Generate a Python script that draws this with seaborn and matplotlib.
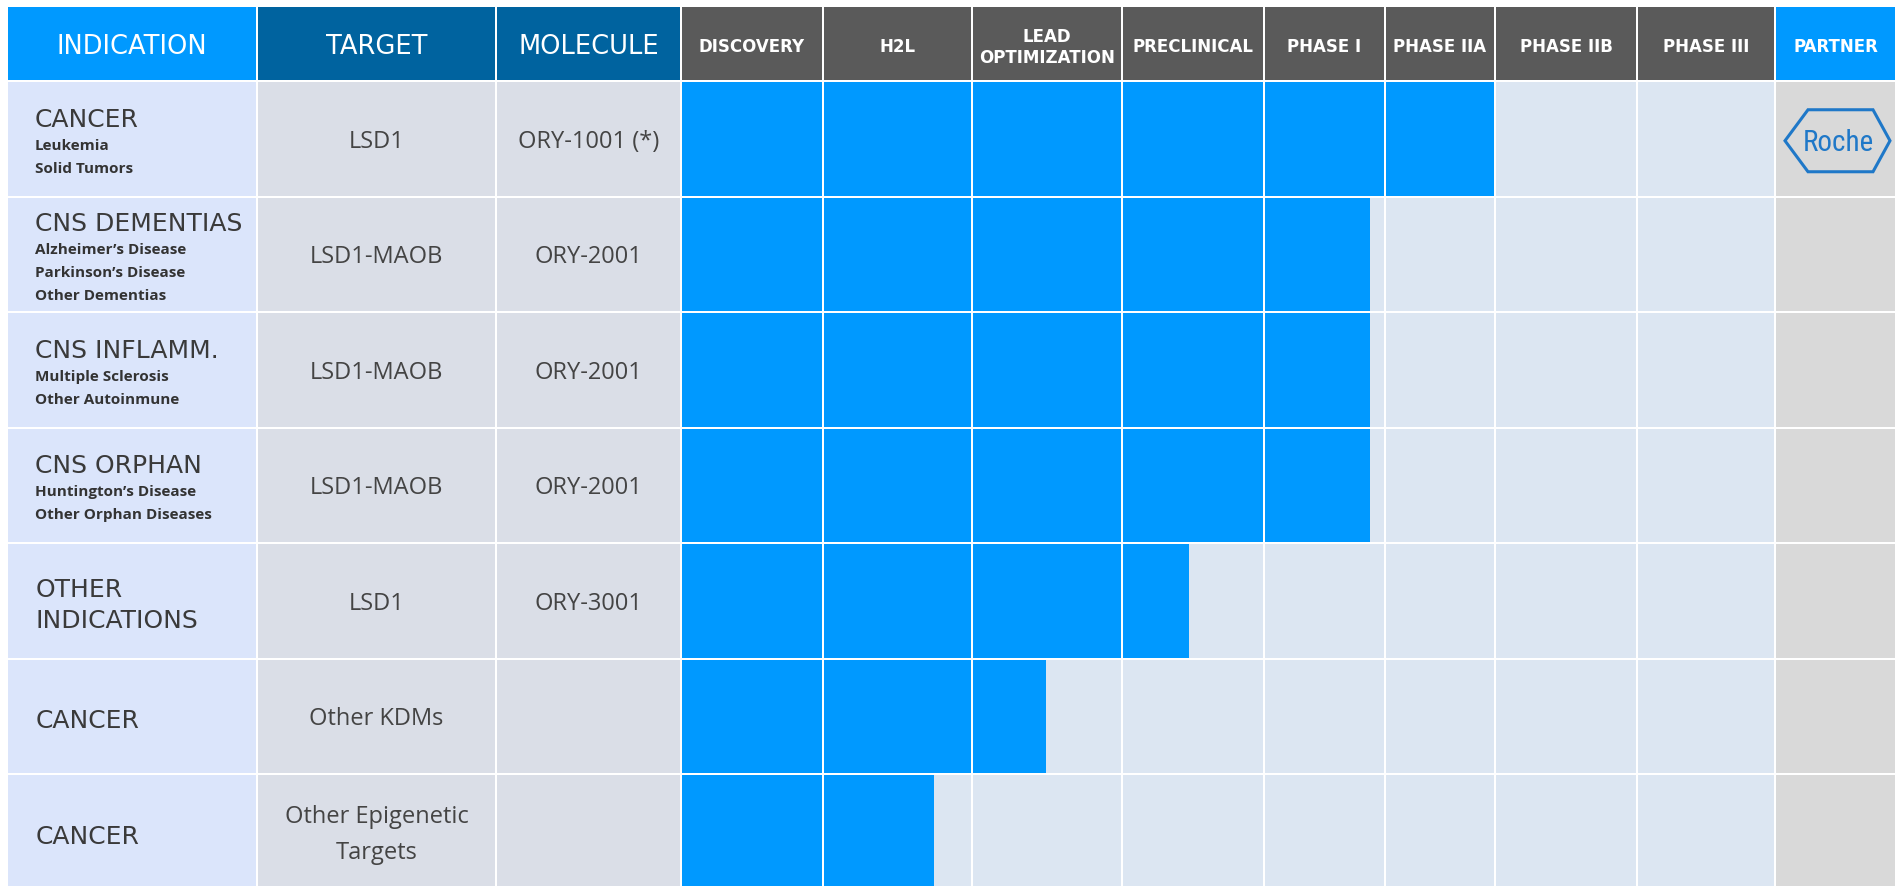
import numpy as np
import pandas as pd
import matplotlib
matplotlib.use("Agg")
import matplotlib.pyplot as plt
from matplotlib.patches import Rectangle, Polygon
from matplotlib import font_manager
from matplotlib.font_manager import FontProperties
import seaborn as sns

# ---- pipeline content -------------------------------------------------------
indications = ["CANCER", "CNS DEMENTIAS", "CNS INFLAMM.", "CNS ORPHAN",
               "OTHER\nINDICATIONS", "CANCER", "CANCER"]
sub_indications = [
    ["Leukemia", "Solid Tumors"],
    ["Alzheimer’s Disease", "Parkinson’s Disease", "Other Dementias"],
    ["Multiple Sclerosis", "Other Autoinmune"],
    ["Huntington’s Disease", "Other Orphan Diseases"],
    [],
    [],
    [],
]
targets = ["LSD1", "LSD1-MAOB", "LSD1-MAOB", "LSD1-MAOB", "LSD1",
           "Other KDMs", "Other Epigenetic\nTargets"]
molecules = ["ORY-1001 (*)", "ORY-2001", "ORY-2001", "ORY-2001", "ORY-3001", "", ""]
stages = ["DISCOVERY", "H2L", "LEAD\nOPTIMIZATION", "PRECLINICAL", "PHASE I",
          "PHASE IIA", "PHASE IIB", "PHASE III"]
# progress through the stage columns (1.0 = one full stage)
progress = [6.0, 4.88, 4.88, 4.88, 3.47, 2.49, 1.75]
partners = ["Roche", "", "", "", "", "", ""]

# ---- layout (pixels) --------------------------------------------------------
W, H = 1895, 887
GAP = 2
col_left = [8, 258, 497, 682, 824, 973, 1123, 1265, 1386, 1496, 1638, 1776]
col_right = [c - GAP for c in col_left[1:]] + [W]
head_top, head_bot = 8, 81
row_top0, row_pitch = 83, 115.5
row_h = row_pitch - GAP
n_rows = len(indications)
row_tops = [row_top0 + i * row_pitch for i in range(n_rows)]

C_BLUE = "#0099ff"
C_DARKBLUE = "#00639f"
C_GREYHEAD = "#5a5a5a"
C_IND = "#dbe5fb"
C_TGT = "#dadee7"
C_STAGE = "#dce6f2"
C_PARTNER = "#d9d9d9"
C_TEXT = "#3a3a3a"
C_ROCHE = "#1f78c8"

sns.set_theme(style="white")
plt.rcParams["font.family"] = ["DejaVu Sans"]

available = {f.name for f in font_manager.fontManager.ttflist}
body_font = "Open Sans" if "Open Sans" in available else "DejaVu Sans"


def narrow_font_props():
    """Pick a condensed sans-serif face for the logo word mark."""
    files = [f.fname for f in font_manager.fontManager.ttflist]
    files += list(font_manager.findSystemFonts())
    wanted = ["LiberationSansNarrow-Regular", "RobotoCondensed-Regular",
              "DejaVuSansCondensed.ttf", "NotoSans-Condensed.ttf",
              "OpenSans-CondensedRegular", "Condensed", "Narrow"]
    for key in wanted:
        for fn in files:
            base = fn.replace("\\", "/").split("/")[-1]
            if key in base and "Bold" not in base and "Italic" not in base \
                    and "Oblique" not in base:
                return FontProperties(fname=fn), True
    return FontProperties(family="Roboto"), False


roche_fp, roche_narrow = narrow_font_props()

fig = plt.figure(figsize=(W / 100, H / 100), dpi=100)
fig.patch.set_facecolor("white")

# background layer: cells
ax = fig.add_axes([0, 0, 1, 1], zorder=0)
ax.set_xlim(0, W)
ax.set_ylim(H, 0)
ax.axis("off")

head_colors = [C_BLUE, C_DARKBLUE, C_DARKBLUE] + [C_GREYHEAD] * len(stages) + [C_BLUE]
body_colors = [C_IND, C_TGT, C_TGT] + [C_STAGE] * len(stages) + [C_PARTNER]
for j, (l, r) in enumerate(zip(col_left, col_right)):
    ax.add_patch(Rectangle((l, head_top), r - l, head_bot - head_top,
                           facecolor=head_colors[j], edgecolor="none"))
    for t in row_tops:
        ax.add_patch(Rectangle((l, t), r - l, row_h,
                               facecolor=body_colors[j], edgecolor="none"))

# progress bars drawn by seaborn on a categorical y axis aligned with the rows
stage_l = np.array(col_left[3:3 + len(stages)], dtype=float)
stage_r = np.array(col_right[3:3 + len(stages)], dtype=float)


def progress_to_px(p):
    k = int(np.floor(p))
    f = p - k
    if f == 0 and k > 0:
        return stage_r[k - 1]
    return stage_l[k] + f * (stage_r[k] - stage_l[k])


bar_start = stage_l[0]
df = pd.DataFrame({
    "row": np.arange(n_rows),
    "length": [progress_to_px(p) - bar_start for p in progress],
})
axb = fig.add_axes([0, 0, 1, 1], zorder=1)
axb.patch.set_alpha(0)
sns.barplot(data=df, x="length", y="row", orient="y", left=bar_start,
            color=C_BLUE, saturation=1, width=row_h / row_pitch,
            errorbar=None, linewidth=0, ax=axb)
c0 = row_top0 + row_h / 2
axb.set_ylim((H - c0) / row_pitch, (0 - c0) / row_pitch)
axb.set_xlim(0, W)
axb.axis("off")

# overlay layer: gaps and text
ax2 = fig.add_axes([0, 0, 1, 1], zorder=2)
ax2.patch.set_alpha(0)
ax2.set_xlim(0, W)
ax2.set_ylim(H, 0)
ax2.axis("off")

for l in stage_l[1:]:
    ax2.add_patch(Rectangle((l - GAP, row_top0), GAP, H - row_top0,
                            facecolor="white", edgecolor="none"))
for t in row_tops[1:]:
    ax2.add_patch(Rectangle((col_left[3], t - GAP), col_right[-4] - col_left[3], GAP,
                            facecolor="white", edgecolor="none"))

hy = (head_top + head_bot) / 2 + 2
for j, name in enumerate(["INDICATION", "TARGET", "MOLECULE"]):
    ax2.text((col_left[j] + col_right[j]) / 2, hy, name, color="white",
             fontsize=18.5, ha="center", va="center", family="DejaVu Sans")
for k, name in enumerate(stages + ["PARTNER"]):
    j = 3 + k
    ax2.text((col_left[j] + col_right[j]) / 2, hy + 1, name, color="white",
             fontsize=12, fontweight="bold", ha="center", va="center",
             family="DejaVu Sans", linespacing=1.25)

for i in range(n_rows):
    top = row_tops[i]
    cy = top + row_h / 2
    subs = sub_indications[i]
    if subs:
        block = 26 + 23 * len(subs)
        y0 = cy - block / 2 + 16
        ax2.text(35, y0, indications[i], color=C_TEXT, fontsize=18,
                 ha="left", va="center", family="DejaVu Sans")
        for m, s in enumerate(subs):
            ax2.text(35, y0 + 26 + 23 * m, s, color="#333333", fontsize=11,
                     fontweight="bold", ha="left", va="center", family=body_font)
    else:
        ax2.text(36, cy + 4, indications[i], color=C_TEXT, fontsize=18,
                 ha="left", va="center", family="DejaVu Sans", linespacing=1.37)
    ax2.text((col_left[1] + col_right[1]) / 2, cy + 2, targets[i], color="#444444",
             fontsize=17, ha="center", va="center", family=body_font,
             linespacing=1.65)
    if molecules[i]:
        ax2.text((col_left[2] + col_right[2]) / 2, cy + 2, molecules[i],
                 color="#444444", fontsize=17, ha="center", va="center",
                 family=body_font)
    if partners[i]:
        px = 1837
        py = cy + 2
        hx = [px - 52, px - 29, px + 36, px + 53, px + 36, px - 29]
        hyx = [py, py - 31, py - 31, py, py + 31, py + 31]
        ax2.add_patch(Polygon(np.column_stack([hx, hyx]), closed=True,
                              facecolor="none", edgecolor=C_ROCHE, linewidth=2.2))
        ax2.text(px + 1, py + 1, partners[i], color=C_ROCHE,
                 fontsize=21 if roche_narrow else 16, ha="center", va="center",
                 fontproperties=roche_fp)

fig.savefig("out.png", dpi=100, facecolor="white")
